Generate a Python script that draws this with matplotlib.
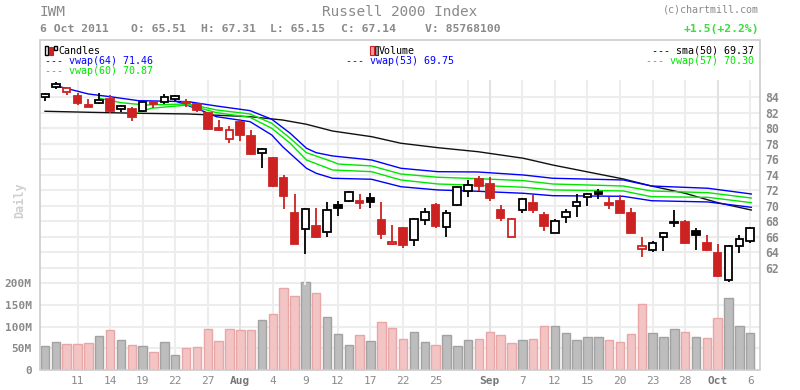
import matplotlib
matplotlib.use("Agg")
import matplotlib.pyplot as plt
from matplotlib.patches import Rectangle

# ---------------- data ----------------
opens = [84.00, 85.32, 84.67, 84.19, 83.07, 83.33, 83.85, 82.55, 82.52, 82.30,
         83.46, 83.46, 83.81, 83.42, 83.16, 81.96, 80.06, 78.68, 80.88, 79.03,
         76.80, 76.19, 73.61, 69.09, 66.98, 67.41, 66.60, 70.16, 70.60, 70.64,
         71.02, 68.18, 65.05, 67.15, 65.56, 68.14, 70.08, 67.24, 70.08, 71.93,
         73.48, 72.79, 69.47, 65.95, 69.44, 70.34, 68.79, 66.47, 68.53, 69.95,
         71.11, 71.80, 70.34, 70.64, 69.09, 64.40, 64.27, 65.95, 67.84, 67.93,
         66.76, 65.21, 63.92, 60.44, 64.83, 65.51]
highs = [84.62, 85.96, 85.19, 84.54, 83.77, 84.54, 84.32, 83.07, 82.73, 83.55,
         83.50, 84.41, 84.36, 83.81, 83.30, 82.04, 81.09, 80.32, 81.09, 79.80,
         77.48, 76.28, 74.00, 71.54, 69.69, 69.73, 70.47, 70.60, 71.93, 71.54,
         71.63, 70.51, 67.54, 67.32, 68.44, 69.73, 70.34, 69.47, 72.57, 73.35,
         73.90, 73.70, 70.12, 68.48, 71.06, 71.37, 69.22, 68.27, 69.60, 71.54,
         71.63, 72.19, 71.19, 71.41, 69.73, 66.03, 65.51, 66.67, 69.47, 68.22,
         67.15, 66.25, 65.08, 64.95, 66.25, 67.31]
lows = [83.60, 85.06, 84.36, 83.07, 82.81, 83.16, 81.96, 82.13, 81.00, 82.17,
        82.64, 83.16, 83.59, 82.81, 82.17, 79.80, 79.72, 78.16, 78.42, 76.58,
        74.94, 72.50, 69.64, 65.10, 63.76, 65.90, 66.03, 68.74, 70.47, 69.64,
        69.77, 65.77, 64.96, 64.61, 64.87, 67.58, 67.19, 66.03, 69.99, 71.11,
        71.93, 70.68, 68.09, 65.95, 69.13, 69.13, 66.80, 66.47, 67.84, 68.53,
        70.03, 70.93, 69.56, 69.10, 66.50, 63.45, 64.09, 64.22, 67.32, 65.12,
        64.31, 64.22, 60.86, 60.18, 63.96, 65.15]
closes = [84.45, 85.70, 85.19, 83.33, 82.81, 83.64, 82.30, 82.90, 81.52, 83.38,
          83.16, 84.03, 84.19, 83.32, 82.39, 79.93, 79.82, 79.77, 79.16, 76.70,
          77.31, 72.57, 71.32, 65.12, 69.56, 66.03, 69.44, 69.77, 71.76, 70.42,
          70.47, 66.41, 65.30, 64.99, 68.27, 69.25, 67.45, 69.06, 72.41, 72.72,
          72.62, 71.06, 68.48, 68.27, 70.86, 69.51, 67.45, 68.09, 69.18, 70.47,
          71.50, 71.58, 70.16, 69.13, 66.54, 64.83, 65.18, 66.50, 67.97, 65.21,
          66.29, 64.31, 60.95, 64.87, 65.69, 67.14]
volumes_m = [55, 64, 59, 59, 62, 78, 92, 69, 57, 55, 41, 64, 34, 50, 53, 94, 66,
             94, 92, 92, 115, 129, 189, 170, 203, 177, 122, 83, 57, 80, 66, 110,
             96, 71, 87, 64, 57, 80, 55, 69, 71, 87, 80, 62, 69, 71, 101, 101, 85,
             69, 76, 76, 69, 64, 83, 152, 85, 76, 94, 87, 76, 73, 119, 166, 101, 86]

sma50_x = [0, 4, 8.6, 13.2, 18.9, 21.9, 24.1, 26.5, 30.1, 32.8, 36.2, 39.9, 44.1,
           46.8, 53.3, 55.9, 59.0, 62.0, 65.1]
sma50_y = [82.22, 82.09, 81.96, 81.87, 81.52, 81.09, 80.54, 79.67, 78.94, 78.09,
           77.52, 77.00, 76.15, 75.28, 73.48, 72.57, 71.63, 70.42, 69.47]
vwap64_x = [1.0, 4.0, 6.0, 8.6, 13.2, 15.8, 18.9, 20.9, 22.6, 24.1, 25.0, 26.5,
            30.1, 32.8, 36.2, 39.9, 44.1, 46.8, 53.3, 55.9, 61.1, 65.1]
vwap64_y = [85.52, 84.45, 84.10, 83.59, 83.46, 82.90, 82.30, 81.19, 79.38, 77.44,
            76.87, 76.45, 75.93, 74.86, 74.42, 74.38, 73.99, 73.57, 73.35, 72.57,
            72.28, 71.54]
vwap53_x = [12.0, 14.3, 15.8, 18.9, 20.9, 21.9, 24.1, 25.0, 26.5, 30.1, 32.8,
            36.2, 39.9, 44.1, 46.8, 53.3, 55.9, 61.1, 65.1]
vwap53_y = [83.55, 82.39, 81.52, 80.88, 79.16, 77.65, 74.86, 74.21, 73.57, 73.44,
            72.48, 72.06, 71.89, 71.63, 71.32, 71.24, 70.67, 70.51, 69.82]
vwap60_x = [5.0, 7.0, 9.2, 13.2, 15.8, 18.9, 20.9, 22.6, 24.1, 26.5, 27.0, 30.1,
            32.8, 36.2, 39.9, 44.1, 46.8, 53.3, 55.9, 61.1, 65.1]
vwap60_y = [83.90, 83.33, 83.03, 83.16, 82.39, 81.87, 80.67, 78.73, 76.87, 75.71,
            75.41, 75.16, 74.12, 73.70, 73.52, 73.26, 72.83, 72.57, 71.93, 71.71,
            71.02]
vwap57_x = [8.0, 9.8, 13.2, 15.8, 18.9, 20.9, 22.6, 24.1, 26.5, 30.1, 32.8, 36.2,
            39.9, 44.1, 46.8, 53.3, 55.9, 61.1, 65.1]
vwap57_y = [81.83, 82.61, 83.03, 82.04, 81.44, 80.02, 78.09, 75.93, 74.64, 74.42,
            73.35, 72.83, 72.66, 72.41, 72.06, 71.93, 71.19, 71.11, 70.42]

tick_idx = [3, 6, 9, 12, 15, 18, 21, 24, 27, 30, 33, 36, 41, 44, 47, 50, 53, 56,
            59, 62, 65]
tick_labels = ["11", "14", "19", "22", "27", "Aug", "4", "9", "12", "17", "22",
               "25", "Sep", "7", "12", "15", "20", "23", "28", "Oct", "6"]
extra_grid_idx = [39]
month_labels = ["Aug", "Sep", "Oct"]
price_ticks = [62, 64, 66, 68, 70, 72, 74, 76, 78, 80, 82, 84]
vol_ticks_m = [0, 50, 100, 150, 200]

# ---------------- style ----------------
FONT = "DejaVu Sans Mono"
plt.rcParams["font.family"] = FONT
RED = "#cc2222"
GRID = "#ededed"
GRID_M = "#e2e2e2"
GRAY_T = "#8a8a8a"
BLUE = "#0000ff"
GREEN = "#00e600"

W, H = 800, 390
fig = plt.figure(figsize=(W / 100, H / 100), dpi=100)
fig.patch.set_facecolor("white")

def fx(px):
    return px / W

def fy(py):
    return 1 - py / H

# price axes: pixel y 40..285
ax = fig.add_axes([fx(40), fy(285), fx(720), (285 - 40) / H])
# volume axes: pixel y 277..370
av = fig.add_axes([fx(40), fy(370), fx(720), (370 - 277) / H])
for a in (ax, av):
    a.patch.set_alpha(0)
    for s in a.spines.values():
        s.set_visible(False)
av.set_zorder(1)
ax.set_zorder(2)

n = len(closes)
xlim = (-0.46, 65.9)
ax.set_xlim(*xlim)
av.set_xlim(*xlim)
ax.set_ylim(59.79, 91.42)
av.set_ylim(0, 214.8)

# grid
for p in price_ticks:
    ax.axhline(p, color=GRID, lw=1.5, zorder=0)
for v in vol_ticks_m[1:]:
    av.axhline(v, color=GRID, lw=1.5, zorder=0)
top_frac = (285 - 81) / (285 - 40)
for i, lab in zip(tick_idx, tick_labels):
    c = GRID_M if lab in month_labels else GRID
    ax.axvline(i, ymin=0, ymax=top_frac, color=c, lw=1.5, zorder=0)
    av.axvline(i, color=c, lw=1.5, zorder=0)
for i in extra_grid_idx:
    ax.axvline(i, ymin=0, ymax=top_frac, color=GRID, lw=1.5, zorder=0)
    av.axvline(i, color=GRID, lw=1.5, zorder=0)

# moving averages
ax.plot(sma50_x, sma50_y, color="#111111", lw=1.0, zorder=2)
ax.plot(vwap64_x, vwap64_y, color=BLUE, lw=1.0, zorder=2)
ax.plot(vwap53_x, vwap53_y, color=BLUE, lw=1.0, zorder=2)
ax.plot(vwap60_x, vwap60_y, color=GREEN, lw=1.0, zorder=2)
ax.plot(vwap57_x, vwap57_y, color=GREEN, lw=1.0, zorder=2)

# candles + volume
bw = 0.7
for i in range(n):
    o, h, l, c = opens[i], highs[i], lows[i], closes[i]
    prev = closes[i - 1] if i > 0 else o
    up = c >= prev
    col = "black" if up else RED
    ax.vlines(i, l, h, color=col, lw=1.3, zorder=3)
    lo, hi = min(o, c), max(o, c)
    filled = c < o
    ax.add_patch(Rectangle((i - bw / 2, lo), bw, max(hi - lo, 0.04),
                           facecolor=col if filled else "white",
                           edgecolor=col, lw=1.3, zorder=4))
    if up:
        fc, ec = "#bdbdbd", "#a2a2a2"
    else:
        fc, ec = "#f2c4c4", "#e8a6a6"
    av.bar(i, volumes_m[i], width=0.78, color=fc, edgecolor=ec, lw=1.0, zorder=2)

# price ticks (right)
ax.yaxis.tick_right()
ax.set_yticks(price_ticks)
ax.set_yticklabels([str(p) for p in price_ticks])
ax.tick_params(axis="y", length=0, pad=4, labelsize=8.3, labelcolor=GRAY_T)
for t in ax.get_yticklabels():
    t.set_fontweight("bold")
ax.set_xticks([])

# volume ticks (left)
av.set_yticks(vol_ticks_m)
av.set_yticklabels(["0" if v == 0 else f"{v}M" for v in vol_ticks_m])
av.tick_params(axis="y", length=0, pad=6, labelsize=8, labelcolor=GRAY_T)
for t in av.get_yticklabels():
    t.set_fontweight("bold")
av.set_xticks(tick_idx)
av.set_xticklabels(tick_labels)
av.tick_params(axis="x", length=0, pad=4, labelsize=8, labelcolor=GRAY_T)
for t in av.get_xticklabels():
    if t.get_text() in month_labels:
        t.set_fontweight("bold")
        t.set_color("#777777")

# ---------------- overlay (pixel coords) ----------------
ov = fig.add_axes([0, 0, 1, 1])
ov.set_xlim(0, W)
ov.set_ylim(H, 0)
ov.axis("off")
ov.patch.set_alpha(0)
ov.set_zorder(5)

# frame
ov.add_patch(Rectangle((40, 40), 720, 330, fill=False, edgecolor="#cccccc", lw=1.2))

# header
ov.text(40, 12, "IWM", fontsize=10.4, color=GRAY_T, va="center", ha="left")
ov.text(400, 12, "Russell 2000 Index", fontsize=10.4, color=GRAY_T, va="center", ha="center")
ov.text(759, 10, "(c)chartmill.com", fontsize=7.2, color=GRAY_T, va="center", ha="right")
info = [(40, "6 Oct 2011"), (131, "O: 65.51"), (201, "H: 67.31"), (270, "L: 65.15"),
        (341, "C: 67.14"), (425, "V: 85768100")]
for x, s in info:
    ov.text(x, 29, s, fontsize=8.2, fontweight="bold", color=GRAY_T, va="center", ha="left")
ov.text(759, 29, "+1.5(+2.2%)", fontsize=8.2, fontweight="bold", color="#3bdc3b",
        va="center", ha="right")

# legend
ov.add_patch(Rectangle((45, 46), 3, 9, facecolor="white", edgecolor="black", lw=1))
ov.add_patch(Rectangle((49, 47), 3.5, 8, facecolor=RED, edgecolor=RED, lw=0.8))
ov.add_patch(Rectangle((54, 46), 3, 4, facecolor="white", edgecolor="black", lw=1))
ov.text(58, 50.5, "Candles", fontsize=7.2, color="black", va="center", ha="left")
ov.add_patch(Rectangle((370, 46), 3.5, 9, facecolor="#f2a0a0", edgecolor=RED, lw=0.8))
ov.add_patch(Rectangle((374.5, 46), 3.5, 9, facecolor="#999999", edgecolor="#333333", lw=0.8))
ov.text(379, 50.5, "Volume", fontsize=7.2, color="black", va="center", ha="left")
ov.text(754, 50.5, "--- sma(50) 69.37", fontsize=7.2, color="black", va="center", ha="right")
ov.text(45, 61.3, "--- vwap(64) 71.46", fontsize=7.2, color=BLUE, va="center", ha="left")
ov.text(346, 61.3, "--- vwap(53) 69.75", fontsize=7.2, color=BLUE, va="center", ha="left")
ov.text(754, 61.3, "--- vwap(57) 70.30", fontsize=7.2, color=GREEN, va="center", ha="right")
ov.text(45, 71.5, "--- vwap(60) 70.87", fontsize=7.2, color=GREEN, va="center", ha="left")

ov.text(20, 200, "Daily", fontsize=8.5, fontweight="bold", color="#cfcfcf",
        rotation=90, va="center", ha="center")

fig.savefig("out.png", dpi=100, facecolor="white")
